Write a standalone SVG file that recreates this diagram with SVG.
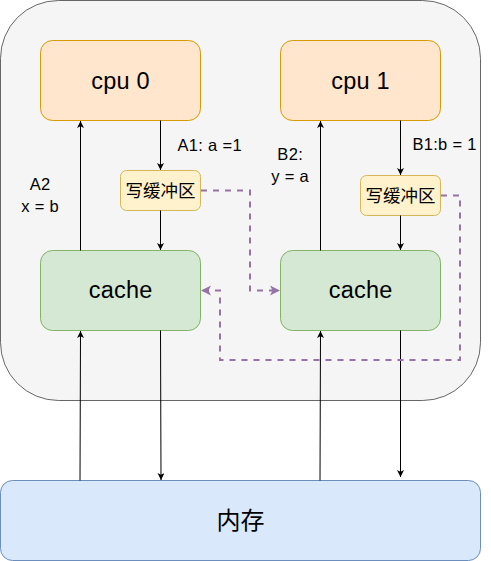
<svg xmlns="http://www.w3.org/2000/svg" width="491" height="561" viewBox="0 0 491 561">
  <style>
    .big { font-family: "Liberation Sans", Arial, sans-serif; font-size: 23.5px; letter-spacing: 0.2px; fill: #000; text-anchor: middle; }
    .lbl { font-family: "Liberation Sans", Arial, sans-serif; font-size: 16.5px; letter-spacing: 0.3px; fill: #000; text-anchor: middle; }
    .cjk { font-family: "Noto Sans CJK SC", "Liberation Sans", sans-serif; fill: #000; text-anchor: middle; }
    .cpu { fill: #ffe6cc; stroke: #d79b00; stroke-width: 1; }
    .buf { fill: #fff2cc; stroke: #d6b656; stroke-width: 1; }
    .cache { fill: #d5e8d4; stroke: #82b366; stroke-width: 1; }
    .mem { fill: #dae8fc; stroke: #6c8ebf; stroke-width: 1; }
    .line { fill: none; stroke: #000; stroke-width: 1; }
    .dash { fill: none; stroke: #9673a6; stroke-width: 2; stroke-dasharray: 6 6; }
  </style>
  <defs>
    <marker id="arr" markerUnits="userSpaceOnUse" markerWidth="8" markerHeight="8" refX="7" refY="3.5" orient="auto">
      <path d="M0,0 L7,3.5 L0,7 L1.75,3.5 Z" fill="#000"/>
    </marker>
    <marker id="parr" markerUnits="userSpaceOnUse" markerWidth="11" markerHeight="11" refX="10" refY="5" orient="auto">
      <path d="M0,0 L10,5 L0,10 L2.5,5 Z" fill="#9673a6"/>
    </marker>
  </defs>

  <g id="container">
    <rect x="0.5" y="0.5" width="480" height="400" rx="58" ry="58" fill="#f5f5f5" stroke="#666666" stroke-width="1"/>
  </g>

  <g id="cpu0">
    <rect class="cpu" x="40.5" y="40.5" width="160" height="80" rx="12" ry="12"/>
    <text class="big" x="120.6" y="89">cpu 0</text>
  </g>
  <g id="cpu1">
    <rect class="cpu" x="280.5" y="40.5" width="160" height="80" rx="12" ry="12"/>
    <text class="big" x="360.6" y="89">cpu 1</text>
  </g>
  <g id="buffer0">
    <rect class="buf" x="120.5" y="170.5" width="80" height="40" rx="6" ry="6"/>
    <text class="cjk" x="160.5" y="196.5" font-size="17.5">写缓冲区</text>
  </g>
  <g id="buffer1">
    <rect class="buf" x="360.5" y="175.5" width="80" height="40" rx="6" ry="6"/>
    <text class="cjk" x="400.5" y="201.5" font-size="17.5">写缓冲区</text>
  </g>
  <g id="cache0">
    <rect class="cache" x="40.5" y="250.5" width="160" height="80" rx="12" ry="12"/>
    <text class="big" x="120.6" y="298">cache</text>
  </g>
  <g id="cache1">
    <rect class="cache" x="280.5" y="250.5" width="160" height="80" rx="12" ry="12"/>
    <text class="big" x="360.6" y="298">cache</text>
  </g>
  <g id="memory">
    <rect class="mem" x="0.5" y="480.5" width="480" height="80" rx="12" ry="12"/>
    <text class="cjk" x="240.5" y="529" font-size="24">内存</text>
  </g>

  <g id="connectors">
    <path class="line" d="M160.5,120.5 V170" marker-end="url(#arr)"/>
    <path class="line" d="M160.5,210.5 V250" marker-end="url(#arr)"/>
    <path class="line" d="M80.5,250.5 V121" marker-end="url(#arr)"/>
    <path class="line" d="M400.5,120.5 V175" marker-end="url(#arr)"/>
    <path class="line" d="M400.5,215.5 V250" marker-end="url(#arr)"/>
    <path class="line" d="M320.5,250.5 V121" marker-end="url(#arr)"/>
    <path class="line" d="M80,480.5 L80.5,331" marker-end="url(#arr)"/>
    <path class="line" d="M160.5,330.5 L161,480" marker-end="url(#arr)"/>
    <path class="line" d="M320,480.5 L320.5,331" marker-end="url(#arr)"/>
    <path class="line" d="M400.5,330.5 V477" marker-end="url(#arr)"/>
    <path class="dash" d="M201,190.5 H250 V290.5 H280" marker-end="url(#parr)"/>
    <path class="dash" d="M441,195.5 H460 V360 H220 V290.5 H201" marker-end="url(#parr)"/>
  </g>

  <g id="labels">
    <text class="lbl" x="209.7" y="151">A1: a =1</text>
    <text class="lbl" x="40.2" y="190">A2</text>
    <text class="lbl" x="40.2" y="212">x = b</text>
    <text class="lbl" x="290.2" y="160">B2:</text>
    <text class="lbl" x="290.2" y="182">y = a</text>
    <text class="lbl" x="444.6" y="150">B1:b = 1</text>
  </g>
</svg>
